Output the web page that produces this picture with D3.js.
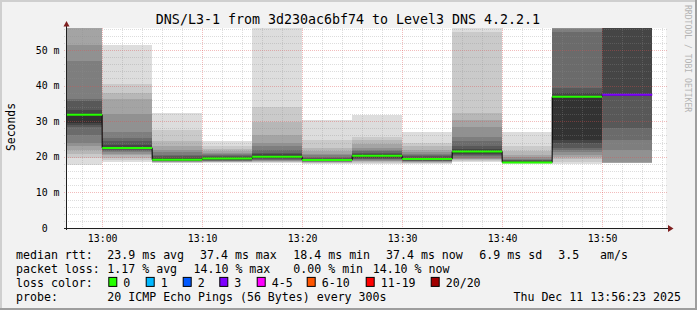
<!DOCTYPE html>
<html><head><meta charset="utf-8">
<script src="https://cdn.jsdelivr.net/npm/d3@7"></script>
<style>body{margin:0;background:#fff}svg{display:block}text{font-family:"DejaVu Sans Mono",monospace;white-space:pre}</style>
</head><body>
<svg id="chart" width="697" height="310"></svg>
<script>
// ---------- data ----------
const chartTitle = "DNS/L3-1 from 3d230ac6bf74 to Level3 DNS 4.2.2.1";
const yAxisTitle = "Seconds";
const watermark = "RRDTOOL / TOBI OETIKER";
const intervalStarts = ["12:55","13:00","13:05","13:10","13:15","13:20","13:25","13:30","13:35","13:40","13:45","13:50"];
const medians = [31.8,22.5,19.2,19.5,20.0,19.1,20.3,19.4,21.5,18.4,36.9,37.4];
const lossCounts = [0,0,0,0,0,0,0,0,0,0,0,3];
// 20 sorted ping rtts (ms) per interval, null = lost
const pings = [
  [17.7,19.7,20.8,21.9,22.9,23.9,26.2,28.4,29.0,29.5,31.8,33.2,35.7,36.3,47.0,51.3,60,60,60,60],
  [18.6,19.2,19.8,20.4,20.9,21.3,21.6,21.9,22.1,22.3,22.5,23.2,24.3,25.2,27.1,32.0,36.3,37.9,40.4,51.5],
  [18.2,18.3,18.4,18.5,18.6,18.7,18.8,18.9,19.0,19.1,19.2,19.8,20.1,20.6,21.3,22.0,23.0,24.5,27.5,32.2],
  [18.2,18.4,18.5,18.6,18.7,18.8,18.9,19.0,19.2,19.4,19.5,19.9,20.1,20.4,20.8,21.2,21.7,22.2,22.9,24.3],
  [18.2,18.4,18.6,18.7,18.9,19.0,19.2,19.4,19.6,19.8,20.0,20.7,21.2,21.9,22.9,23.8,26.2,29.9,34.1,60],
  [18.0,18.2,18.3,18.4,18.5,18.6,18.7,18.8,18.9,19.0,19.1,19.5,19.7,20.0,20.4,20.9,21.5,22.5,24.7,30.4],
  [18.0,18.3,18.5,18.7,18.9,19.1,19.3,19.5,19.8,20.1,20.3,20.8,21.1,21.5,22.0,22.6,23.5,24.8,25.7,31.7],
  [18.0,18.2,18.3,18.4,18.6,18.7,18.8,18.9,19.1,19.3,19.4,19.8,20.1,20.4,20.8,21.3,22.0,22.9,23.8,26.9],
  [18.5,18.8,19.0,19.3,19.5,19.8,20.1,20.4,20.8,21.2,21.5,22.2,22.9,24.3,25.7,28.5,30.4,32.2,55.0,60],
  [18.1,18.2,18.2,18.2,18.3,18.3,18.3,18.4,18.4,18.4,18.4,18.8,19.0,19.2,19.5,19.9,20.5,21.5,22.9,27.0],
  [17.9,18.6,19.3,19.9,20.6,21.3,21.9,22.6,23.8,24.7,36.9,37.9,39.3,55.0,56.0,60,60,60,60,60],
  [18.0,18.1,18.2,18.2,18.5,21.9,24.7,28.0,37.2,37.3,37.4,60,60,60,60,60,60,null,null,null]
];
const yTicks = [0,10,20,30,40,50];
const xTickLabels = ["13:00","13:10","13:20","13:30","13:40","13:50"];
const lossLabels = ["0","1","2","3","4-5","6-10","11-19","20/20"];
const lossColors = ["#26ff00","#00b8ff","#0059ff","#7e00ff","#ff00ff","#ff5500","#ff0000","#a10000"];
const legendRow1 = [["median rtt:",16],["23.9 ms avg",107.3],["37.4 ms max",200],["18.4 ms min",293.3],["37.4 ms now",386],["6.9 ms sd",479.3],["3.5",558.3],["am/s",600]];
const legendRow2 = [["packet loss:",16],["1.17 % avg",107.3],["14.10 % max",193.5],["0.00 % min",293.3],["14.10 % now",372.7]];
const probeLabel = "probe:";
const probeText = "20 ICMP Echo Pings (56 Bytes) every 300s";
const dateText = "Thu Dec 11 13:56:23 2025";

// ---------- setup ----------
const svg = d3.select("#chart");
const W = 697, H = 310;
const L = 66, R = 666, T = 28, B = 228;
const day = (h,m,s=0) => new Date(2025,11,11,h,m,s);
const parse = s => { const [h,m] = s.split(":").map(Number); return day(h,m); };
const x = d3.scaleTime().domain([day(12,56,23), day(13,56,23)]).range([L, R]);
const yMax = 56.18;
const y = d3.scaleLinear().domain([0, yMax]).range([B, T]);

// background + frame
svg.append("rect").attr("width",W).attr("height",H).attr("fill","#f2f2f2");
svg.append("rect").attr("x",0).attr("y",0).attr("width",W).attr("height",2).attr("fill","#cfcfcf");
svg.append("rect").attr("x",0).attr("y",0).attr("width",2).attr("height",H).attr("fill","#cfcfcf");
svg.append("rect").attr("x",W-2).attr("y",0).attr("width",2).attr("height",H).attr("fill","#9e9e9e");
svg.append("rect").attr("x",0).attr("y",H-2).attr("width",W).attr("height",2).attr("fill","#9e9e9e");
// canvas
svg.append("rect").attr("x",L).attr("y",T).attr("width",R-L).attr("height",B-T).attr("fill","#ffffff");

svg.append("defs").append("clipPath").attr("id","plotclip")
  .append("rect").attr("x",L).attr("y",T).attr("width",R-L).attr("height",B-T);

// smoke
const smoke = svg.append("g").attr("clip-path","url(#plotclip)").attr("shape-rendering","crispEdges");
pings.forEach((p, bi) => {
  const t0 = parse(intervalStarts[bi]);
  const t1 = new Date(+t0 + 5*60000);
  const x0 = Math.max(x(t0), L), x1 = x(t1);
  for (let i = 1; i <= 10; i++) {
    const lo = p[i-1], hi = p[20-i];
    if (lo == null || hi == null) continue;
    const g = Math.floor(190/10*(10-i)) + 50;
    smoke.append("rect")
      .attr("x", x0).attr("width", x1-x0)
      .attr("y", y(Math.min(hi, yMax+5))).attr("height", y(lo) - y(Math.min(hi, yMax+5)))
      .attr("fill", d3.rgb(g,g,g));
  }
});

// grid
const grid = svg.append("g");
const minorCol = "rgba(143,143,143,0.3)", majorCol = "rgba(222,79,79,0.38)";
for (let v = 2; v <= yMax; v += 2) {
  const yy = Math.round(y(v)) + 0.5;
  const major = v % 10 === 0;
  grid.append("line").attr("x1",L-2).attr("x2",R+2).attr("y1",yy).attr("y2",yy)
    .attr("stroke", major ? majorCol : minorCol).attr("stroke-dasharray","1,1");
}
for (let t = day(12,58); t <= day(13,56,23); t = new Date(+t + 2*60000)) {
  const xx = Math.round(x(t)) + 0.5;
  const major = t.getMinutes() % 10 === 0;
  grid.append("line").attr("x1",xx).attr("x2",xx).attr("y1",T).attr("y2",B+2)
    .attr("stroke", major ? majorCol : minorCol).attr("stroke-dasharray","1,1");
}

// median lines
const stepPts = [];
medians.forEach((m, i) => {
  const t0 = parse(intervalStarts[i]);
  stepPts.push([Math.max(x(t0), L), y(m)]);
  stepPts.push([x(new Date(+t0 + 5*60000)), y(m)]);
});
svg.append("path").attr("d", d3.line()(stepPts)).attr("fill","none").attr("stroke","#000").attr("stroke-width",1);
const lossIdx = n => n === 0 ? 0 : n === 1 ? 1 : n === 2 ? 2 : n === 3 ? 3 : n <= 5 ? 4 : n <= 10 ? 5 : n <= 19 ? 6 : 7;
medians.forEach((m, i) => {
  const t0 = parse(intervalStarts[i]);
  svg.append("line")
    .attr("x1", Math.max(x(t0), L)).attr("x2", x(new Date(+t0 + 5*60000)))
    .attr("y1", y(m)).attr("y2", y(m))
    .attr("stroke", lossColors[lossIdx(lossCounts[i])]).attr("stroke-width", 2);
});

// axes
const axisCol = "#1f1f1f", arrowCol = "#7f1f1f";
svg.append("line").attr("x1",L-2).attr("x2",R+5).attr("y1",B+0.5).attr("y2",B+0.5).attr("stroke",axisCol);
svg.append("line").attr("x1",L+0.5).attr("x2",L+0.5).attr("y1",B+2).attr("y2",T-4).attr("stroke",axisCol);
svg.append("path").attr("d",`M${R+2},${B-3}L${R+7.5},${B+0.5}L${R+2},${B+4}Z`).attr("fill",arrowCol);
svg.append("path").attr("d",`M${L-2.5},${T-1.5}L${L+0.5},${T-7}L${L+3.5},${T-1.5}Z`).attr("fill",arrowCol);

// y tick labels
const axFont = 9.9;
yTicks.forEach(v => {
  svg.append("text").attr("x", 59.5).attr("y", y(v) + 3.6)
    .attr("text-anchor","end").attr("font-size",axFont).attr("fill","#000")
    .text(v === 0 ? "0  " : v + " m");
});
// x tick labels
xTickLabels.forEach(s => {
  svg.append("text").attr("x", x(parse(s)) + 0.5).attr("y", 241.5)
    .attr("text-anchor","middle").attr("font-size",axFont).attr("fill","#000").text(s);
});

// title
svg.append("text").attr("x", 348).attr("y", 23.5).attr("text-anchor","middle")
  .attr("font-size",13.3).attr("fill","#000").text(chartTitle);
// y title
svg.append("text").attr("transform","translate(14.5,127) rotate(-90)").attr("text-anchor","middle")
  .attr("font-size",11.4).attr("fill","#000").text(yAxisTitle);
// watermark
svg.append("text").attr("transform","translate(685,5) rotate(90)").attr("text-anchor","start")
  .attr("font-size",8.1).attr("fill","#b4b4b4").text(watermark);

// legend
const lgFont = 11.6;
const rows = [258.5, 272.7, 286.9, 301.1];
legendRow1.forEach(([s,xx]) => svg.append("text").attr("x",xx).attr("y",rows[0]).attr("font-size",lgFont).text(s));
legendRow2.forEach(([s,xx]) => svg.append("text").attr("x",xx).attr("y",rows[1]).attr("font-size",lgFont).text(s));
svg.append("text").attr("x",16).attr("y",rows[2]).attr("font-size",lgFont).text("loss color:");
const boxX = [108.3,145.7,182.7,219.3,256.7,306.7,365.7,430.7];
lossLabels.forEach((s,i) => {
  svg.append("rect").attr("x",boxX[i]+0.5).attr("y",rows[2]-9.5).attr("width",8).attr("height",9)
    .attr("fill",lossColors[i]).attr("stroke","#000").attr("stroke-width",1);
  svg.append("text").attr("x",boxX[i]+15).attr("y",rows[2]).attr("font-size",lgFont).text(s);
});
svg.append("text").attr("x",16).attr("y",rows[3]).attr("font-size",lgFont).text(probeLabel);
svg.append("text").attr("x",107.3).attr("y",rows[3]).attr("font-size",lgFont).text(probeText);
svg.append("text").attr("x",681).attr("y",rows[3]).attr("text-anchor","end").attr("font-size",lgFont).text(dateText);
</script>
</body></html>
